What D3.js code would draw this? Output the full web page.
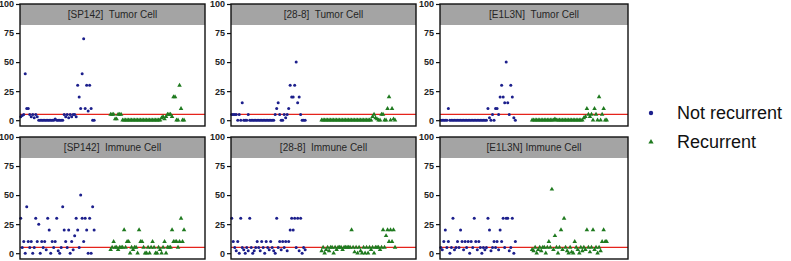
<!DOCTYPE html>
<html>
    <head>
        <meta charset="UTF-8"/>
        <style>
            body { margin: 0; background: #fff; }
        </style>
    </head>
    <body>
        <script src="https://d3js.org/d3.v7.min.js" type="text/javascript"></script>
        <script>
        // values per panel, one point per patient
        let sp142TumorNot = [3, 4, 5, 40, 10, 10, 5, 3, 5, 2, 5, 3,
            0, 0, 0, 0, 0, 0, 0, 0, 0, 0, 0, 1, 0, 0, 0, 0, 0,
            5, 3, 5, 2, 5, 3, 5, 5, 3,
            30, 20, 10, 40, 70, 10, 30, 8, 30, 10, 0, 0];
        let sp142TumorRec = [5, 5, 5, 1, 1, 5, 5, 5,
            0, 0, 0, 0, 0, 0, 0, 0, 0, 0, 0, 0, 0, 0, 0, 0, 0, 0, 0, 0, 0, 0, 0, 0, 0, 0,
            2, 3, 1, 3, 5, 5, 5, 3, 20, 20, 0, 0, 30, 10, 0, 0];
        let p288TumorNot = [5, 5, 5, 5, 0, 5, 0, 15, 0, 0, 0, 5,
            0, 0, 0, 0, 0, 0, 0, 0, 0, 0, 0, 0, 0, 0, 0, 0, 0,
            5, 10, 15, 5, 0, 0, 5, 2, 5, 10, 30, 20, 20, 30, 50, 15, 20, 5,
            0, 0, 0];
        let p288TumorRec = [0, 0, 0, 0, 0, 0, 0, 0, 0, 0, 0, 0, 0, 0, 0, 0, 0,
            0, 0, 0, 0, 0, 0, 0, 0, 0, 0, 0, 0, 0, 0, 0, 0, 0,
            3, 5, 2, 1, 0, 0, 5, 5, 0, 0, 10, 20, 0, 10, 1, 0];
        let e1l3nTumorNot = [0, 0, 0, 0, 0, 10,
            0, 0, 0, 0, 0, 0, 0, 0, 0, 0, 0, 0, 0, 0, 0, 0, 0, 0, 0, 0, 0, 0, 0, 0, 0,
            10, 2, 0, 5, 0, 10, 10, 5, 20, 30, 20, 15, 50, 15, 5, 30, 20, 2, 0];
        let e1l3nTumorRec = [0, 0, 0, 0, 0, 0, 0, 0, 0, 0, 0, 0, 0, 0, 0, 1,
            0, 0, 0, 0, 0, 0, 0, 0, 0, 0, 0, 0, 0, 0, 0, 0, 0, 0,
            2, 3, 10, 5, 3, 5, 0, 10, 5, 0, 20, 0, 5, 10, 0, 0];
        let sp142ImmuneNot = [30, 5, 10, 0, 40, 10, 5, 10, 0, 5,
            30, 10, 25, 0, 10, 5, 10, 3, 30, 20,
            0, 10, 5, 10, 30, 2, 0, 5, 40, 20,
            10, 5, 20, 0, 10, 3, 15, 30, 20, 5,
            50, 30, 10, 30, 20, 0, 30, 0, 40, 20];
        let sp142ImmuneRec = [3, 5, 10, 5, 5, 3, 5, 5, 5, 20,
            5, 10, 10, 0, 5, 3, 5, 5, 0, 20,
            10, 10, 5, 0, 0, 5, 0, 5, 10, 5,
            0, 0, 5, 3, 0, 5, 10, 0, 5, 5,
            5, 20, 10, 10, 10, 5, 10, 30, 10, 20];
        let p288ImmuneNot = [30, 10, 5, 2, 10, 0, 30, 5, 3, 0,
            5, 2, 30, 5, 0, 2, 5, 10, 5, 2,
            10, 5, 0, 10, 5, 3, 10, 5, 2, 0,
            30, 5, 10, 3, 10, 5, 10, 2, 10, 20,
            30, 20, 30, 5, 30, 2, 30, 0, 5, 3];
        let p288ImmuneRec = [2, 5, 0, 3, 5, 2, 5, 5, 0, 5,
            3, 5, 5, 5, 3, 5, 5, 5, 5, 5,
            20, 5, 1, 5, 0, 5, 2, 0, 5, 0,
            5, 0, 5, 3, 5, 0, 5, 5, 5, 3,
            5, 20, 5, 15, 20, 10, 20, 10, 20, 5];
        let e1l3nImmuneNot = [5, 3, 10, 20, 5, 10, 0, 5, 30, 3,
            5, 10, 5, 20, 10, 3, 10, 5, 10, 0,
            10, 5, 30, 10, 3, 10, 5, 0, 5, 3,
            5, 30, 20, 2, 5, 10, 5, 10, 3, 20,
            10, 30, 5, 30, 30, 2, 5, 30, 0, 10];
        let e1l3nImmuneRec = [3, 2, 5, 0, 3, 5, 2, 5, 5, 0,
            5, 10, 5, 55, 3, 15, 5, 0, 5, 20,
            3, 30, 5, 2, 0, 5, 1, 0, 10, 5,
            3, 0, 5, 2, 5, 3, 20, 5, 1, 5,
            20, 3, 5, 0, 5, 2, 10, 20, 10, 10];

        let titles = ["[SP142]  Tumor Cell", "[28-8]  Tumor Cell", "[E1L3N]  Tumor Cell",
                      "[SP142]  Immune Cell", "[28-8]  Immune Cell", "[E1L3N] Immune Cell"];
        let yTicks = [0, 25, 50, 75, 100];
        let cutoff = 5;
        let legendLabels = ["Not recurrent", "Recurrent"];

        let panels = [
            {title: titles[0], not: sp142TumorNot, rec: sp142TumorRec},
            {title: titles[1], not: p288TumorNot, rec: p288TumorRec},
            {title: titles[2], not: e1l3nTumorNot, rec: e1l3nTumorRec},
            {title: titles[3], not: sp142ImmuneNot, rec: sp142ImmuneRec},
            {title: titles[4], not: p288ImmuneNot, rec: p288ImmuneRec},
            {title: titles[5], not: e1l3nImmuneNot, rec: e1l3nImmuneRec}
        ];

        let blue = "#1c1f8c";
        let green = "#1f7a1f";
        let colX = [20, 231, 440];
        let colW = [185, 185, 188];
        let rowY = [4, 137];
        let plotH = 122;
        let headerH = 21;
        let recOffset = 60;

        let svg = d3.select("body")
            .append("svg")
            .attr("width", 791)
            .attr("height", 261);

        let tri = d3.symbol().type(d3.symbolTriangle).size(9);

        panels.forEach(function(p, k) {
            let x0 = colX[k % 3], w = colW[k % 3], y0 = rowY[Math.floor(k / 3)];
            let x = d3.scaleLinear().domain([-0.5, 123]).range([x0, x0 + w]);
            let y = d3.scaleLinear().domain([-5, 100]).range([y0 + plotH, y0]);
            let g = svg.append("g");

            g.append("rect")
                .attr("x", x0).attr("y", y0)
                .attr("width", w).attr("height", headerH)
                .attr("fill", "#a4a4a4");
            g.append("text")
                .attr("x", x0 + w / 2)
                .attr("y", y0 + headerH / 2 + 3.5)
                .attr("text-anchor", "middle")
                .attr("font-family", "Liberation Sans, Arial, sans-serif")
                .attr("font-size", "10px")
                .attr("fill", "#262626")
                .attr("xml:space", "preserve")
                .text(p.title);

            g.append("line")
                .attr("x1", x0).attr("x2", x0 + w)
                .attr("y1", y(cutoff)).attr("y2", y(cutoff))
                .attr("stroke", "#e5231b")
                .attr("stroke-width", 1.2);

            g.selectAll("circle")
                .data(p.not)
                .enter()
                .append("circle")
                .attr("cx", function(d, i) { return x(i); })
                .attr("cy", function(d) { return y(d); })
                .attr("r", 1.5)
                .attr("fill", blue);

            g.selectAll("path.rec")
                .data(p.rec)
                .enter()
                .append("path")
                .attr("class", "rec")
                .attr("d", tri)
                .attr("transform", function(d, i) {
                    return "translate(" + x(recOffset + i) + "," + y(d) + ")";
                })
                .attr("fill", green);

            // frame
            g.append("rect")
                .attr("x", x0).attr("y", y0)
                .attr("width", w).attr("height", plotH)
                .attr("fill", "none")
                .attr("stroke", "#111")
                .attr("stroke-width", 1.4);

            let axis = g.append("g")
                .attr("transform", "translate(" + x0 + ",0)")
                .call(d3.axisLeft(y).tickValues(yTicks).tickSize(4).tickSizeOuter(0).tickPadding(2));
            axis.select(".domain").remove();
            axis.selectAll("line").attr("stroke", "#111").attr("stroke-width", 1.2);
            axis.selectAll("text")
                .attr("font-family", "Liberation Sans, Arial, sans-serif")
                .attr("font-size", "9px")
                .attr("font-weight", "bold")
                .attr("fill", "#222");
        });

        // legend
        let legend = svg.append("g");
        legend.append("circle")
            .attr("cx", 651).attr("cy", 113).attr("r", 2.2)
            .attr("fill", blue);
        legend.append("path")
            .attr("d", d3.symbol().type(d3.symbolTriangle).size(12))
            .attr("transform", "translate(651,142)")
            .attr("fill", green);
        legend.selectAll("text")
            .data(legendLabels)
            .enter()
            .append("text")
            .attr("x", 677)
            .attr("y", function(d, i) { return 119 + i * 29; })
            .attr("font-family", "Liberation Sans, Arial, sans-serif")
            .attr("font-size", "18px")
            .attr("fill", "#111")
            .text(function(d) { return d; });
        </script>
    </body>
</html>
